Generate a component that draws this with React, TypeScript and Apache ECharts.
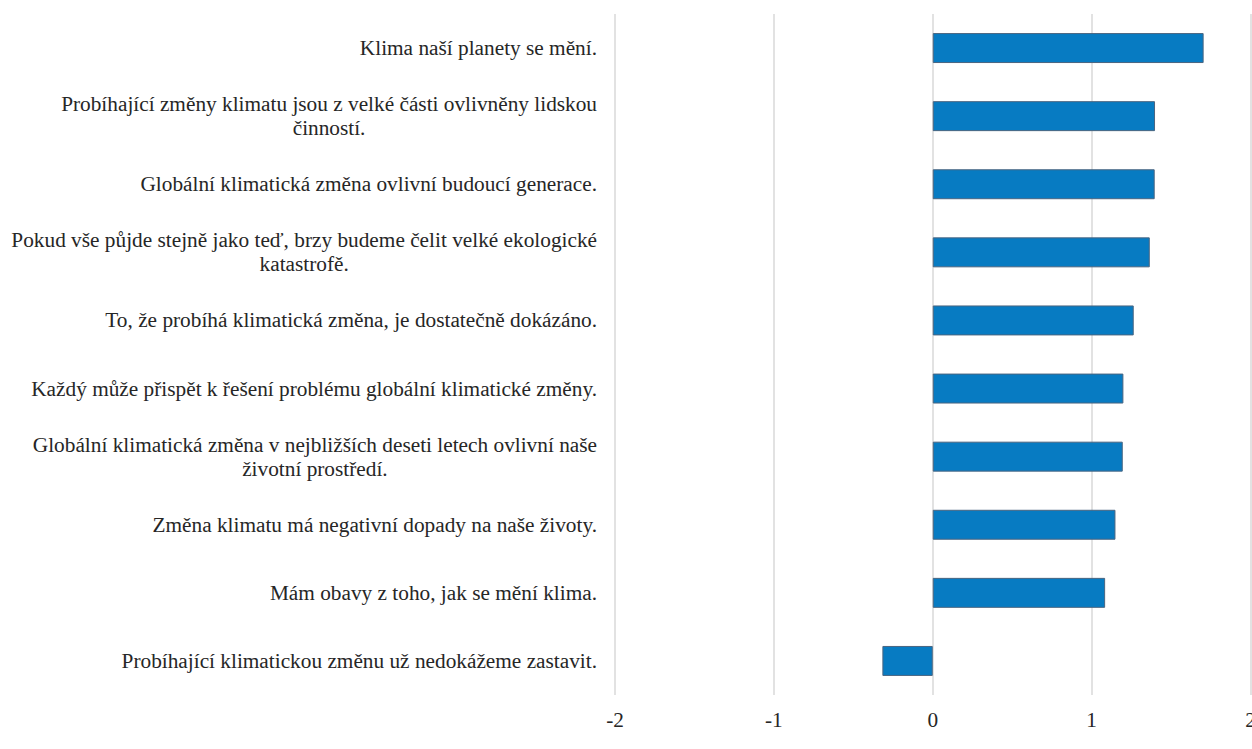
import React, { useEffect, useRef } from "react";
import * as echarts from "echarts";

const categories: string[] = [
  "Klima naší planety se mění.",
  "Probíhající změny klimatu jsou z velké části ovlivněny lidskou\nčinností.",
  "Globální klimatická změna ovlivní budoucí generace.",
  "Pokud vše půjde stejně jako teď, brzy budeme čelit velké ekologické\nkatastrofě.",
  "To, že probíhá klimatická změna, je dostatečně dokázáno.",
  "Každý může přispět k řešení problému globální klimatické změny.",
  "Globální klimatická změna v nejbližších deseti letech ovlivní naše\nživotní prostředí.",
  "Změna klimatu má negativní dopady na naše životy.",
  "Mám obavy z toho, jak se mění klima.",
  "Probíhající klimatickou změnu už nedokážeme zastavit.",
];

const values: number[] = [1.705, 1.399, 1.397, 1.366, 1.265, 1.2, 1.196, 1.15, 1.085, -0.317];

const xTicks = { min: -2, max: 2, interval: 1 };

export default function App() {
  const ref = useRef<HTMLDivElement>(null);

  useEffect(() => {
    if (!ref.current) return;
    const chart = echarts.init(ref.current, undefined, { renderer: "svg" });
    const font = "Liberation Serif";
    const textColor = "#262626";
    chart.setOption({
      animation: false,
      backgroundColor: "#ffffff",
      grid: {
        left: 615,
        right: 1.5,
        top: 14,
        bottom: 54,
        containLabel: false,
        outerBoundsMode: "none",
      },
      xAxis: {
        type: "value",
        min: xTicks.min,
        max: xTicks.max,
        interval: xTicks.interval,
        axisLine: { show: false },
        axisTick: { show: false },
        axisLabel: {
          color: textColor,
          fontFamily: font,
          fontSize: 21.3,
          margin: 14,
          hideOverlap: false,
        },
        splitLine: { show: true, lineStyle: { color: "#d9d9d9", width: 1.5 } },
      },
      yAxis: {
        type: "category",
        data: categories,
        inverse: true,
        axisLine: { show: false },
        axisTick: { show: false },
        axisLabel: {
          margin: 18,
          fontFamily: font,
          fontSize: 21.3,
          color: textColor,
          interval: 0,
          formatter: (v: string) =>
            v
              .split("\n")
              .map((l) => "{c|" + l + "}")
              .join("\n"),
          rich: {
            c: {
              align: "center",
              fontFamily: font,
              fontSize: 21.3,
              color: textColor,
              lineHeight: 24,
            },
          },
        },
      },
      series: [
        {
          type: "bar",
          data: values,
          barWidth: "44%",
          itemStyle: { color: "#077bc2", borderColor: "#4a6580", borderWidth: 1 },
        },
      ],
    });
    return () => chart.dispose();
  }, []);

  return (
    <div
      ref={ref}
      style={{ position: "absolute", left: 0, top: 0, width: 1252, height: 749 }}
    />
  );
}
